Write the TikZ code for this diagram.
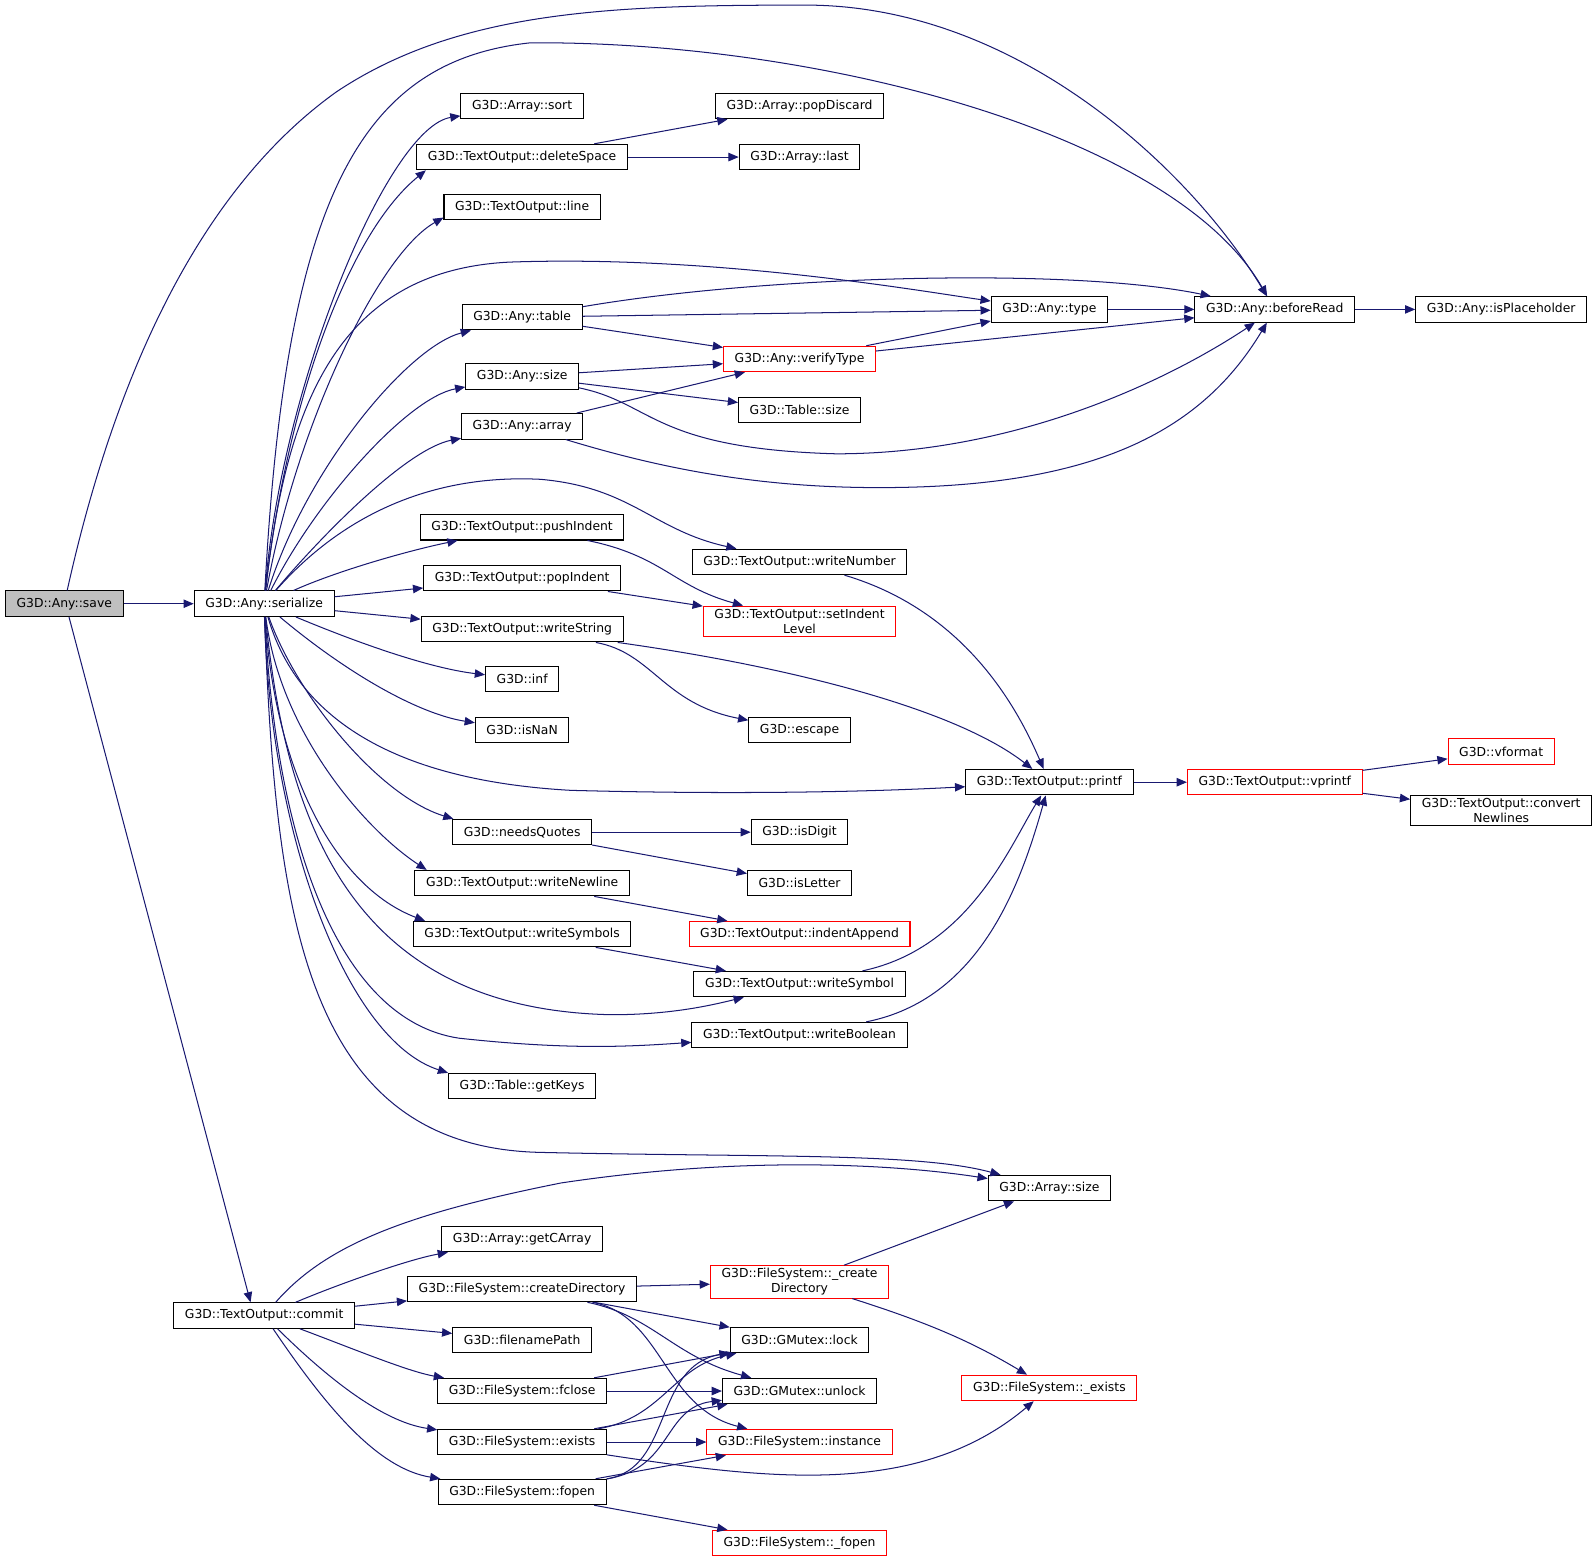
\documentclass[tikz,border=0pt]{standalone}
\usepackage{fontspec}
\setmainfont{DejaVu Sans}
\usetikzlibrary{arrows.meta}
\definecolor{callblue}{RGB}{25,25,112}
\definecolor{rootgray}{RGB}{191,191,191}

\begin{document}
\begin{tikzpicture}[x=0.75pt, y=-0.75pt,
    func/.style={draw=black, fill=white, line width=0.75pt, minimum height=18.75pt,
        inner xsep=8.2pt, inner ysep=2pt, align=center, font=\fontsize{9.1}{11}\selectfont},
    funcred/.style={func, draw=red},
    funcroot/.style={func, fill=rootgray},
    call/.style={draw=callblue, line width=0.75pt, -{Triangle[length=7.5pt,width=6.2pt]}}]
        \useasboundingbox (0,0) rectangle (1565,1530);

        % Root and the two direct callees
        \node[funcroot] (save) at (63,592) {G3D::Any::save};
        \node[func] (serialize) at (259,592) {G3D::Any::serialize};
        \node[func] (commit) at (259,1290) {G3D::TextOutput::commit};

        % Second column
        \node[func] (sortArr) at (512,104) {G3D::Array::sort};
        \node[func] (delSpace) at (512,154) {G3D::TextOutput::deleteSpace};
        \node[func] (lineOut) at (512,203) {G3D::TextOutput::line};
        \node[func] (anyTable) at (512,311) {G3D::Any::table};
        \node[func] (anySize) at (512,369) {G3D::Any::size};
        \node[func] (anyArray) at (512,418) {G3D::Any::array};
        \node[func] (pushInd) at (512,517) {G3D::TextOutput::pushIndent};
        \node[func] (popInd) at (512,567) {G3D::TextOutput::popIndent};
        \node[func] (wrString) at (512,617) {G3D::TextOutput::writeString};
        \node[func] (gInf) at (512,666) {G3D::inf};
        \node[func] (gIsNaN) at (512,716) {G3D::isNaN};
        \node[func] (needQ) at (512,816) {G3D::needsQuotes};
        \node[func] (wrNewline) at (512,866) {G3D::TextOutput::writeNewline};
        \node[func] (wrSymbols) at (512,916) {G3D::TextOutput::writeSymbols};
        \node[func] (getKeys) at (512,1065) {G3D::Table::getKeys};
        \node[func] (getCArr) at (512,1215) {G3D::Array::getCArray};
        \node[func] (createDir) at (512,1264) {G3D::FileSystem::createDirectory};
        \node[func] (fnPath) at (512,1314) {G3D::filenamePath};
        \node[func] (fsClose) at (512,1364) {G3D::FileSystem::fclose};
        \node[func] (fsExists) at (512,1414) {G3D::FileSystem::exists};
        \node[func] (fsOpen) at (512,1463) {G3D::FileSystem::fopen};

        % Third column
        \node[func] (popDisc) at (784,104) {G3D::Array::popDiscard};
        \node[func] (arrLast) at (784,154) {G3D::Array::last};
        \node[funcred] (verType) at (784,352) {G3D::Any::verifyType};
        \node[func] (tblSize) at (784,402) {G3D::Table::size};
        \node[func] (wrNumber) at (784,551) {G3D::TextOutput::writeNumber};
        \node[funcred] (setInd) at (784,609) {G3D::TextOutput::setIndent\\Level};
        \node[func] (gEscape) at (784,716) {G3D::escape};
        \node[func] (isDigit) at (784,816) {G3D::isDigit};
        \node[func] (isLetter) at (784,866) {G3D::isLetter};
        \node[funcred] (indApp) at (784,916) {G3D::TextOutput::indentAppend};
        \node[func] (wrSymbol) at (784,965) {G3D::TextOutput::writeSymbol};
        \node[func] (wrBool) at (784,1015) {G3D::TextOutput::writeBoolean};
        \node[funcred] (fsCreate) at (784,1257) {G3D::FileSystem::\_create\\Directory};
        \node[func] (mLock) at (784,1314) {G3D::GMutex::lock};
        \node[func] (mUnlock) at (784,1364) {G3D::GMutex::unlock};
        \node[funcred] (fsInst) at (784,1414) {G3D::FileSystem::instance};
        \node[funcred] (fsFopen) at (784,1513) {G3D::FileSystem::\_fopen};

        % Fourth to sixth column
        \node[func] (anyType) at (1029,303.4) {G3D::Any::type};
        \node[func] (toPrintf) at (1029,767) {G3D::TextOutput::printf};
        \node[func] (arrSize) at (1029,1165) {G3D::Array::size};
        \node[funcred] (fsExists2) at (1029,1361) {G3D::FileSystem::\_exists};
        \node[func] (beforeRead) at (1250,303.4) {G3D::Any::beforeRead};
        \node[funcred] (vprintf) at (1250,767) {G3D::TextOutput::vprintf};
        \node[func] (isPlace) at (1472,303.4) {G3D::Any::isPlaceholder};
        \node[funcred] (vformat) at (1472,737) {G3D::vformat};
        \node[func] (convNl) at (1472,795) {G3D::TextOutput::convert\\Newlines};

        % Calls of save
        \draw[call] (save) -- (serialize);
        \draw[call] ([xshift=3.5pt]save.south) -- ([xshift=-10pt]commit.north);
        \draw[call] (save) .. controls (110,380) and (190,190) .. (330,90)
            .. controls (450,10) and (600,5) .. (790,5)
            .. controls (1000,5) and (1170,170) .. (beforeRead);

        % Calls of serialize
        \draw[call] (serialize) .. controls (275,380) and (380,125) .. (sortArr);
        \draw[call] (serialize) .. controls (280,400) and (340,230) .. ([xshift=7pt]delSpace.south west);
        \draw[call] (serialize) .. controls (290,420) and (370,250) .. ([yshift=2pt]lineOut.south west);
        \draw[call] (serialize) .. controls (300,460) and (400,340) .. (anyTable);
        \draw[call] (serialize) .. controls (310,490) and (400,390) .. (anySize);
        \draw[call] (serialize) .. controls (320,520) and (400,440) .. (anyArray);
        \draw[call] (serialize) .. controls (330,560) and (400,540) .. (pushInd);
        \draw[call] (serialize) -- (popInd);
        \draw[call] (serialize) -- (wrString);
        \draw[call] (serialize) .. controls (350,630) and (420,655) .. (gInf);
        \draw[call] (serialize) .. controls (340,660) and (410,700) .. (gIsNaN);
        \draw[call] (serialize) .. controls (290,680) and (370,780) .. ([xshift=1pt]needQ.north west);
        \draw[call] (serialize) .. controls (275,720) and (360,815) .. ([xshift=9pt]wrNewline.north west);
        \draw[call] (serialize) .. controls (270,760) and (330,870) .. ([xshift=9pt]wrSymbols.north west);
        \draw[call] (serialize) .. controls (265,820) and (340,1020) .. (getKeys.north west);
        \draw[call] (serialize) .. controls (280,200) and (350,60) .. (520,42)
            .. controls (800,40) and (1150,130) .. (beforeRead);
        \draw[call] (serialize) .. controls (280,400) and (330,265) .. (500,257)
            .. controls (700,250) and (900,285) .. (anyType);
        \draw[call] (serialize) .. controls (340,500) and (430,465) .. (530,470)
            .. controls (620,478) and (640,520) .. ([xshift=33pt]wrNumber.north west);
        \draw[call] (serialize) .. controls (290,700) and (380,765) .. (560,775)
            .. controls (750,780) and (880,775) .. (toPrintf);
        \draw[call] (serialize) .. controls (280,800) and (340,990) .. (600,995)
            .. controls (660,995) and (700,985) .. (wrSymbol);
        \draw[call] (serialize) .. controls (270,820) and (330,1000) .. (450,1018)
            .. controls (560,1030) and (620,1026) .. (wrBool);
        \draw[call] (serialize) .. controls (270,900) and (300,1125) .. (530,1130)
            .. controls (750,1135) and (900,1130) .. (arrSize);

        % Upper part
        \draw[call] (delSpace) -- (popDisc);
        \draw[call] (delSpace) -- (arrLast);
        \draw[call] (anyTable) -- (anyType);
        \draw[call] (anyTable) -- (verType);
        \draw[call] (anyTable) .. controls (750,270) and (1050,262) .. (beforeRead);
        \draw[call] (anySize) -- (verType);
        \draw[call] (anySize) -- (tblSize);
        \draw[call] (anySize) .. controls (640,395) and (640,440) .. (820,445)
            .. controls (1000,445) and (1150,370) .. (beforeRead);
        \draw[call] (anyArray) -- (verType);
        \draw[call] (anyArray) .. controls (650,460) and (750,480) .. (880,478)
            .. controls (1080,475) and (1180,420) .. (beforeRead);
        \draw[call] (verType) -- (anyType);
        \draw[call] (verType) -- (beforeRead);
        \draw[call] (anyType) -- (beforeRead);
        \draw[call] (beforeRead) -- (isPlace);

        % Middle part
        \draw[call] (pushInd) .. controls (650,545) and (660,575) .. (setInd);
        \draw[call] (popInd) -- (setInd);
        \draw[call] (wrNumber) .. controls (950,600) and (1000,700) .. (toPrintf);
        \draw[call] (wrString) .. controls (640,640) and (650,690) .. (gEscape);
        \draw[call] (wrString) .. controls (750,650) and (930,690) .. (toPrintf);
        \draw[call] (toPrintf) -- (vprintf);
        \draw[call] (vprintf) -- (vformat);
        \draw[call] (vprintf) -- (convNl);
        \draw[call] (needQ) -- (isDigit);
        \draw[call] (needQ) -- (isLetter);
        \draw[call] (wrNewline) -- (indApp);
        \draw[call] (wrSymbols) -- (wrSymbol);
        \draw[call] (wrSymbol) .. controls (950,930) and (990,830) .. (toPrintf);
        \draw[call] (wrBool) .. controls (960,980) and (1000,870) .. (toPrintf);

        % Calls of commit
        \draw[call] (commit) .. controls (320,1220) and (400,1190) .. (550,1160)
            .. controls (750,1130) and (900,1145) .. (arrSize);
        \draw[call] (commit) .. controls (330,1260) and (400,1235) .. (getCArr);
        \draw[call] (commit) -- (createDir);
        \draw[call] (commit) -- (fnPath);
        \draw[call] (commit) .. controls (340,1320) and (400,1345) .. (fsClose);
        \draw[call] (commit) .. controls (330,1360) and (380,1395) .. (fsExists);
        \draw[call] (commit) .. controls (320,1380) and (370,1440) .. (fsOpen);

        % File system part
        \draw[call] (createDir) -- (fsCreate);
        \draw[call] (createDir) -- (mLock);
        \draw[call] (createDir) .. controls (640,1290) and (660,1330) .. (mUnlock);
        \draw[call] (createDir) .. controls (650,1290) and (650,1380) .. (fsInst);
        \draw[call] (fsCreate) -- (arrSize);
        \draw[call] (fsCreate) .. controls (920,1300) and (960,1320) .. (fsExists2);
        \draw[call] (fsClose) -- (mLock);
        \draw[call] (fsClose) -- (mUnlock);
        \draw[call] (fsExists) .. controls (650,1390) and (660,1340) .. (mLock);
        \draw[call] (fsExists) -- (mUnlock);
        \draw[call] (fsExists) -- (fsInst);
        \draw[call] (fsExists) .. controls (750,1450) and (900,1470) .. (fsExists2);
        \draw[call] (fsOpen) .. controls (660,1440) and (640,1340) .. (mLock);
        \draw[call] (fsOpen) .. controls (660,1440) and (650,1380) .. (mUnlock);
        \draw[call] (fsOpen) -- (fsInst);
        \draw[call] (fsOpen) -- (fsFopen);
\end{tikzpicture}
\end{document}
